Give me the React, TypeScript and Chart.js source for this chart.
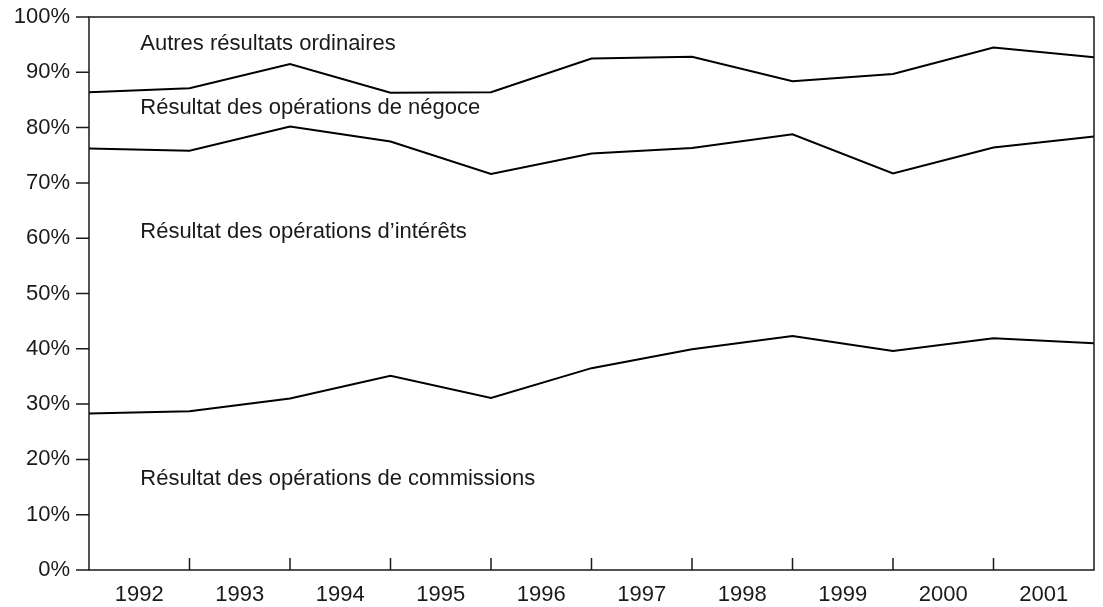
import React, { useEffect, useRef } from "react";
import { Chart, registerables } from "chart.js";

Chart.register(...registerables);

// Year labels (centred between the boundary points)
const years = ["1992", "1993", "1994", "1995", "1996", "1997", "1998", "1999", "2000", "2001"];

// Cumulative shares (%) at the 11 year boundaries
const autresSeries = [86.4, 87.1, 91.5, 86.3, 86.4, 92.5, 92.8, 88.4, 89.7, 94.5, 92.7];
const negoceSeries = [76.2, 75.8, 80.2, 77.5, 71.6, 75.3, 76.3, 78.8, 71.7, 76.4, 78.4];
const commissionsSeries = [28.3, 28.7, 31.0, 35.1, 31.1, 36.5, 39.9, 42.3, 39.6, 41.9, 41.0];

const yTicks = [0, 10, 20, 30, 40, 50, 60, 70, 80, 90, 100];

// Area labels and the value (%) at which each sits
const areaLabels = [
  "Autres résultats ordinaires",
  "Résultat des opérations de négoce",
  "Résultat des opérations d’intérêts",
  "Résultat des opérations de commissions",
];
const areaLabelValues = [95.2, 83.6, 61.1, 16.5];
const areaLabelX = 0.51;

const FONT = '"Liberation Sans", Arial, sans-serif';
const INK = "#1a1a1a";

const framePlugin = {
  id: "frame",
  afterDatasetsDraw(chart: any) {
    const { ctx, chartArea, scales } = chart;
    const { left, right, top, bottom } = chartArea;
    const x = scales.x;
    const y = scales.y;
    ctx.save();
    ctx.strokeStyle = INK;
    ctx.lineWidth = 1.5;
    ctx.strokeRect(left, top, right - left, bottom - top);
    ctx.beginPath();
    yTicks.forEach((v) => {
      const py = y.getPixelForValue(v);
      ctx.moveTo(left - 13, py);
      ctx.lineTo(left, py);
    });
    for (let i = 1; i < years.length; i++) {
      const px = x.getPixelForValue(i);
      ctx.moveTo(px, bottom);
      ctx.lineTo(px, bottom - 12);
    }
    ctx.stroke();
    ctx.fillStyle = INK;
    ctx.font = `22px ${FONT}`;
    ctx.textBaseline = "middle";
    ctx.textAlign = "left";
    areaLabels.forEach((t, i) => {
      ctx.fillText(t, x.getPixelForValue(areaLabelX), y.getPixelForValue(areaLabelValues[i]));
    });
    ctx.restore();
  },
};

export default function App() {
  const ref = useRef<HTMLCanvasElement | null>(null);
  useEffect(() => {
    if (!ref.current) return;
    const mk = (arr: number[]) => arr.map((v, i) => ({ x: i, y: v }));
    const ds = (arr: number[]) => ({
      data: mk(arr),
      borderColor: "#000",
      borderWidth: 2,
      pointRadius: 0,
      tension: 0,
      fill: false,
    });
    const chart = new Chart(ref.current, {
      type: "line",
      data: {
        datasets: [ds(autresSeries), ds(negoceSeries), ds(commissionsSeries)],
      },
      options: {
        animation: false,
        responsive: false,
        devicePixelRatio: 1,
        layout: { padding: { left: 0, right: 9, top: 17, bottom: 0 } },
        plugins: { legend: { display: false }, tooltip: { enabled: false } },
        scales: {
          x: {
            type: "linear",
            min: 0,
            max: years.length,
            grid: { display: false, drawTicks: false },
            border: { display: false },
            afterBuildTicks: (s: any) => {
              s.ticks = years.map((_, i) => ({ value: i + 0.5 }));
            },
            afterFit: (s: any) => {
              s.height = 37;
              s.paddingLeft = 0;
              s.paddingRight = 0;
            },
            ticks: {
              autoSkip: false,
              maxRotation: 0,
              padding: 12,
              color: INK,
              font: { family: FONT, size: 22 },
              callback: (_v: any, i: number) => years[i],
            },
          },
          y: {
            min: 0,
            max: 100,
            grid: { display: false, drawTicks: false },
            border: { display: false },
            afterFit: (s: any) => {
              s.width = 89;
              s.paddingTop = 0;
              s.paddingBottom = 0;
            },
            afterBuildTicks: (s: any) => {
              s.ticks = yTicks.map((v) => ({ value: v }));
            },
            ticks: {
              padding: 19,
              color: INK,
              font: { family: FONT, size: 22 },
              callback: (v: any) => `${v}%`,
            },
          },
        },
      },
      plugins: [framePlugin],
    });
    return () => chart.destroy();
  }, []);
  return (
    <div style={{ position: "fixed", left: 0, top: 0, width: 1103, height: 607, background: "#fff" }}>
      <canvas ref={ref} width={1103} height={607} style={{ display: "block" }} />
    </div>
  );
}
